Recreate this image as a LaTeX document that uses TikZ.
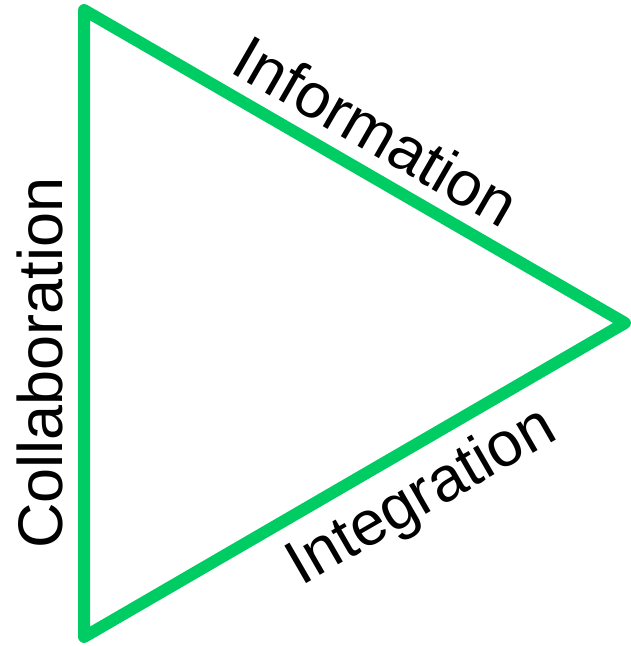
\documentclass[tikz,border=0pt]{standalone}
\usepackage{fontspec}
\setmainfont{Liberation Sans}
\definecolor{tri}{RGB}{0,204,100}
\begin{document}
\begin{tikzpicture}[x=1pt,y=1pt,
  edge/.style={draw=tri,line width=12pt,line join=round},
  lbl/.style={inner sep=0pt,anchor=base,font=\fontsize{63}{63}\selectfont}]
\useasboundingbox (0,0) rectangle (631,646);
\coordinate (A) at (84,636);
\coordinate (B) at (625,323);
\coordinate (C) at (84,9);
\draw[edge] (A) -- (B) -- (C) -- cycle;
\node[lbl,rotate=-30] (info) at (365,495.5) {Information};
\node[lbl,rotate=30] (integ) at (430.5,133.7) {Integration};
\node[lbl,rotate=90] (collab) at (62,283) {Collaboration};
\end{tikzpicture}
\end{document}
